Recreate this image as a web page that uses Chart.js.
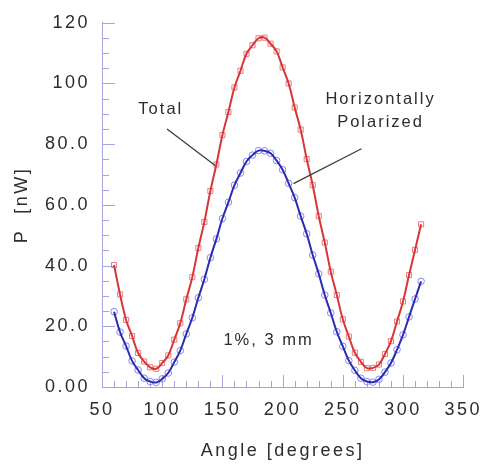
<!DOCTYPE html>
<html>
<head>
<meta charset="utf-8">
<script src="https://cdn.jsdelivr.net/npm/chart.js@4.4.1/dist/chart.umd.min.js"></script>
<style>
  html, body { margin: 0; padding: 0; background: #fff; }
</style>
</head>
<body>
<canvas id="polChart" width="494" height="468"></canvas>
<script>
// angle of the polarizer (degrees)
const angles = [60, 65, 70, 75, 80, 85, 90, 95, 100, 105, 110, 115, 120, 125, 130, 135,
  140, 145, 150, 155, 160, 165, 170, 175, 180, 185, 190, 195, 200, 205, 210, 215,
  220, 225, 230, 235, 240, 245, 250, 255, 260, 265, 270, 275, 280, 285, 290, 295,
  300, 305, 310, 315];

// measured power P [nW]
const totalP = [40.2, 30.5, 22.1, 16.8, 11.2, 8.4, 6.5, 6.0, 7.9, 10.4, 15.6, 21.0, 28.9, 36.2, 45.8, 54.4,
  64.6, 73.3, 83.0, 90.6, 98.7, 104.2, 109.8, 112.6, 114.9, 115.1, 113.1, 110.6, 105.3, 100.0, 92.1, 84.8,
  75.1, 66.5, 56.3, 47.6, 38.0, 30.3, 22.3, 16.6, 11.3, 8.3, 6.2, 6.3, 7.4, 10.9, 15.1, 21.6,
  28.2, 36.9, 45.2, 53.6];

const horizP = [24.8, 18.1, 13.5, 8.6, 5.6, 2.9, 1.8, 1.5, 2.7, 4.6, 8.2, 12.0, 17.5, 22.8, 29.4, 35.5,
  42.6, 48.8, 55.5, 60.9, 66.5, 70.5, 74.3, 76.4, 77.9, 77.8, 77.0, 74.6, 71.6, 67.1, 62.4, 56.3,
  50.5, 43.5, 37.3, 30.3, 24.4, 18.2, 13.4, 8.7, 5.5, 2.9, 1.8, 1.6, 2.5, 4.9, 7.9, 12.3,
  17.2, 23.1, 29.0, 34.8];

// tick labels
const xTickLabels = ['50', '100', '150', '200', '250', '300', '350'];
const yTickLabels = ['0.00', '20.0', '40.0', '60.0', '80.0', '100', '120'];

const axisColor = '#a4a4e6';
const textColor = '#2c2c2c';

function toPoints(ys) {
  return angles.map(function (a, i) { return { x: a, y: ys[i] }; });
}

// text notes on the plot, placed in data units
const notes = [
  { lines: ['Total'], x: 98, y: 91.6, from: [104, 85], to: [144, 73] },
  { lines: ['Horizontally', 'Polarized'], x: 280.5, y: 91, from: [265.5, 78.5], to: [209, 67] },
  { lines: ['1%, 3 mm'], x: 187.5, y: 15.3 }
];

// wider letter spacing like the original
const spacing = {
  id: 'spacing',
  beforeUpdate(chart) { chart.ctx.letterSpacing = '2.5px'; },
  beforeDraw(chart) { chart.ctx.letterSpacing = '2.5px'; }
};

// ticks pointing into the plot, with minor ticks
const inwardTicks = {
  id: 'inwardTicks',
  beforeDatasetsDraw(chart) {
    const ctx = chart.ctx;
    const xs = chart.scales.x, ys = chart.scales.y;
    const area = chart.chartArea;
    ctx.save();
    ctx.strokeStyle = axisColor;
    ctx.lineWidth = 1;
    ctx.beginPath();
    const xStep = (xs.max - xs.min) / (xs.ticks.length - 1) / 5;
    for (let i = 0, v = xs.min; v <= xs.max + 0.01; i++, v = xs.min + i * xStep) {
      const px = Math.round(xs.getPixelForValue(v)) + 0.5;
      const len = (i % 5 === 0) ? 12 : 6;
      ctx.moveTo(px, area.bottom);
      ctx.lineTo(px, area.bottom - len);
    }
    const yStep = (ys.max - ys.min) / (ys.ticks.length - 1) / 4;
    for (let i = 0, v = ys.min; v <= ys.max + 0.01; i++, v = ys.min + i * yStep) {
      const py = Math.round(ys.getPixelForValue(v)) + 0.5;
      const len = (i % 4 === 0) ? 13 : 7;
      ctx.moveTo(area.left, py);
      ctx.lineTo(area.left + len, py);
    }
    ctx.stroke();
    ctx.restore();
  }
};

// labels with leader lines
const notePlugin = {
  id: 'notes',
  afterDatasetsDraw(chart) {
    const ctx = chart.ctx;
    const xs = chart.scales.x, ys = chart.scales.y;
    ctx.save();
    ctx.letterSpacing = '2px';
    ctx.font = '16.5px "Liberation Sans", Arial, sans-serif';
    ctx.fillStyle = textColor;
    ctx.textAlign = 'center';
    ctx.textBaseline = 'middle';
    notes.forEach(function (n) {
      const cx = xs.getPixelForValue(n.x);
      const cy = ys.getPixelForValue(n.y);
      n.lines.forEach(function (t, i) {
        ctx.fillText(t, cx + 1, cy + (i - (n.lines.length - 1) / 2) * 23);
      });
      if (n.from) {
        ctx.strokeStyle = '#3c3c3c';
        ctx.lineWidth = 1.3;
        ctx.beginPath();
        ctx.moveTo(xs.getPixelForValue(n.from[0]), ys.getPixelForValue(n.from[1]));
        ctx.lineTo(xs.getPixelForValue(n.to[0]), ys.getPixelForValue(n.to[1]));
        ctx.stroke();
      }
    });
    ctx.restore();
  }
};

const tickFont = { family: '"Liberation Sans", Arial, sans-serif', size: 18 };

const config = {
  type: 'scatter',
  data: {
    datasets: [
      { // fitted lines on top
        data: toPoints(totalP), showLine: true, borderColor: '#d6363a', borderWidth: 2,
        pointRadius: 0, tension: 0.4, fill: false
      },
      {
        data: toPoints(horizP), showLine: true, borderColor: '#2a2ab2', borderWidth: 2,
        pointRadius: 0, tension: 0.4, fill: false
      },
      { // data markers
        data: toPoints(totalP), showLine: false, pointStyle: 'rect', pointRadius: 3.6,
        pointBorderColor: '#ec7a7a', pointBackgroundColor: 'rgba(0,0,0,0)', pointBorderWidth: 1
      },
      {
        data: toPoints(horizP), showLine: false, pointStyle: 'circle', pointRadius: 3.3,
        pointBorderColor: '#8585f2', pointBackgroundColor: 'rgba(0,0,0,0)', pointBorderWidth: 1
      }
    ]
  },
  options: {
    responsive: false,
    animation: false,
    events: [],
    layout: { padding: { left: 0, right: 21, top: 17, bottom: 0 } },
    plugins: { legend: { display: false }, tooltip: { enabled: false } },
    scales: {
      x: {
        type: 'linear', min: 50, max: 350,
        grid: { display: false, drawTicks: false },
        border: { display: true, color: axisColor, width: 1 },
        ticks: {
          stepSize: 50, autoSkip: false, maxRotation: 0, padding: 12,
          color: textColor, font: tickFont,
          callback: function (v, i) { return xTickLabels[i]; }
        },
        title: {
          display: true, text: 'Angle [degrees]', color: textColor,
          font: tickFont, padding: { top: 0, bottom: 6 }
        },
        afterFit: function (s) { s.height = 81; }
      },
      y: {
        min: 0, max: 120,
        grid: { display: false, drawTicks: false },
        border: { display: true, color: axisColor, width: 1 },
        ticks: {
          stepSize: 20, autoSkip: false, padding: 12,
          color: textColor, font: tickFont,
          callback: function (v, i) { return yTickLabels[i]; }
        },
        title: {
          display: true, text: 'P  [nW]', color: textColor,
          font: tickFont, padding: { top: 11, bottom: 0 }
        },
        afterFit: function (s) { s.width = 102; }
      }
    }
  },
  plugins: [spacing, inwardTicks, notePlugin]
};

window.addEventListener('load', function () {
  new Chart(document.getElementById('polChart'), config);
});
</script>
</body>
</html>
